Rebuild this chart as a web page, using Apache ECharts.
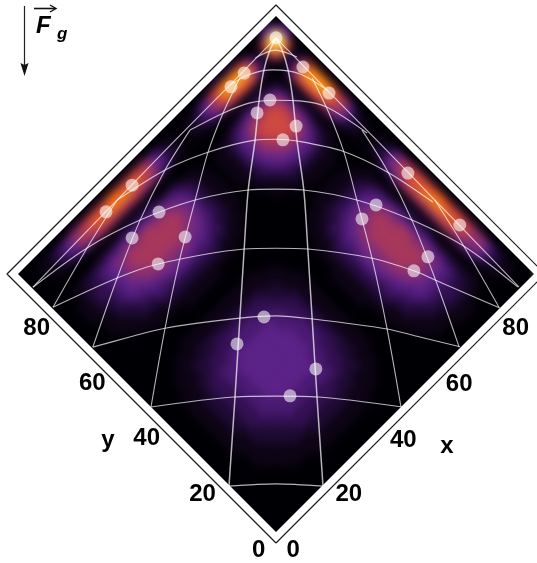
<!DOCTYPE html>
<html>
<head>
<meta charset="utf-8">
<script src="https://cdn.jsdelivr.net/npm/echarts@6/dist/echarts.min.js"></script>
<style>
html, body { margin: 0; padding: 0; background: #fff; overflow: hidden; }
#clip { position: absolute; left: 0; top: 0; width: 537px; height: 563px;
        clip-path: polygon(276px 16px, 534px 274px, 276px 532px, 18px 274px); }
#heat { position: absolute; left: 0; top: 0; width: 537px; height: 563px; filter: blur(4px); }
#main { position: absolute; left: 0; top: 0; width: 537px; height: 563px; }
</style>
</head>
<body>
<div id="clip"><div id="heat"></div></div>
<div id="main"></div>
<script>
// intensity levels, one hex digit per cell, 2 units per cell
// row index = y / 2, character index = x / 2
const heatRows = [
    '000000000000000000000000000000000000000000000',
    '000000000000000000000000000000000000000000000',
    '000000000000000000000000000000000011100000110',
    '000000000011111111110000000000011111111001110',
    '000000011111111111111100000000111122221101220',
    '000000111111222222111110000001112223322102330',
    '000001111222222222221111000001122333332104650',
    '000011112223333333222211000011223444443105770',
    '000011122233333333332211100011234555553116771',
    '000011222334444444433221100011234566664116981',
    '000111223344444444433221100012345677764117a91',
    '000111233444555555443321100012345778875118ba1',
    '000112233445555555443321100112346788875218ba1',
    '000112233445555555544321100112356788875218ca1',
    '000112233445555555544321100112356788885218cb1',
    '000112233445555555544321100112356788885218cb1',
    '000112233445555555544321100112356788875218ca1',
    '000112233445555555443321100112346788875218ba1',
    '000111233444555555443321100012345778875118ba1',
    '000111223334444444433221100012345667764117a91',
    '000011122333344443332211100011234566654116981',
    '000011122223333333322211000011233445543105770',
    '000001111222222222221111000001122333332104650',
    '000000111111111111111110000001112222221102320',
    '000000001111111111111000000000111111111001210',
    '000000000000000000000000000000001111110001110',
    '000000000000000000000000000000000000000000000',
    '000000000000111111000000000000000111110001110',
    '000000011111111111111100000000011111111001210',
    '000001111122222222221111000001112222221102320',
    '000011122233333333332211100001123344432104650',
    '000111223344455554443321100011234555553116881',
    '000112234455666666554322110012345677764117a91',
    '000112345567777777665432110112356789985218cb1',
    '00112234567788888876643211011245789aa86219dc1',
    '0011233456788888888765321101124579aaa9621adc1',
    '0011233456788888888765321101124579aaa9621adc1',
    '000122345667778877765432110112356889986219db1',
    '000112233445555555544321100011234566664116981',
    '000000001111222222111100000000011222221102320',
    '000000000011111111100000000000000111110001210',
    '00011234667888888877643211011235789aa95218ca1',
    '0011235689abbccccbba9653210123579cdddd932cee5',
    '00112346789aaabbaaa98642110112469bcccb721aee5',
    '000000001111111111111000000000011222221001550'
];
const cellSize = 2;
const heatColors = ['#000004', '#0d0415', '#1e0a33', '#341053', '#4a1a72', '#5c2288', '#742a80', '#8f3070',
    '#a8385c', '#c0404a', '#d04a40', '#ea6020', '#f88018', '#ffa020', '#ffe060', '#fffff0'];

// white dots
const spotX = [86.2, 69.8, 74.5, 85.8, 85.8, 74.3, 69.8, 74.3, 69.6, 26.2, 35.4, 35.4, 26.2, 35.6, 26.2, 85.6, 85.6, 74.5, 69.6, 74.5, 69.6, 35.4, 26, 35.4, 26.2];
const spotY = [86.2, 85.5, 85.6, 76.4, 67.3, 76.4, 76.4, 67.3, 67.2, 85.5, 85.6, 76.2, 76.4, 67.3, 67.3, 39.6, 21.5, 39.6, 39.6, 21.5, 21.5, 39.6, 39.6, 21.5, 21.3];

// curved grid, [x, y] along each line
const arcs = [
    [[-0.2, 16.2], [8.4, 8.4], [16.2, -0.2]],
    [[0, 43.6], [16.2, 30.9], [23.7, 23.7], [30.9, 16.2], [43.8, -0.2]],
    [[0.3, 64.2], [8.5, 59.5], [16.2, 54.9], [31, 43.6], [37.7, 37.7], [43.6, 30.7], [54.8, 16], [59.1, 8.9], [64.4, 0.2]],
    [[0.3, 78.1], [16.6, 72], [26.2, 67.3], [43.8, 54.9], [49.5, 49.5], [54.9, 43.8], [64.5, 31], [69.6, 21.5], [71.7, 16.2], [78.1, 0]],
    [[0.3, 85.1], [16.6, 82.5], [30.7, 78.1], [43.8, 72], [54.8, 64.5], [59.8, 59.8], [64.4, 54.9], [72, 43.8], [78.1, 30.7], [82.7, 16.7], [84.9, 0.5]],
    [[30.2, 85.6], [43.8, 82.5], [54.4, 78.1], [64.7, 72], [68.5, 68.5], [71.9, 64.5], [78, 54.9], [82.2, 43.4], [84.9, 30.2]],
    [[55.1, 85.1], [63.8, 82.3], [70.3, 79.4], [75.3, 75.3], [79.4, 71], [83, 65.2], [85.5, 53.7]],
    [[69.9, 86], [75.3, 84.4], [80.1, 81.1], [84.1, 75.7], [86, 68.2]],
    [[79, 86.3], [83.9, 84.2], [86.5, 79.2]]
];
const leftLines = [
    [[-0.2, 16.2], [16.4, 30.7], [31, 43.6], [43.8, 54.9], [54.8, 64.5], [64.7, 72], [72.4, 78.3], [78.5, 82.7], [83, 85.1], [86.2, 86.2]],
    [[0, 43.6], [16.2, 54.9], [31, 64.5], [43.8, 72], [54.4, 78.1], [63.8, 82.3], [72.9, 85.5]],
    [[0.3, 64.2], [16.6, 72], [30.7, 78.1], [43.8, 82.5], [55.1, 85.1]],
    [[0.3, 78.1], [16.6, 82.5], [30.2, 85.6]],
    [[0.3, 85.1], [16, 85.4], [30.2, 85.6], [50, 85.9], [70, 86], [86.2, 86.2]]
];
const rightLines = [
    [[16.2, -0.2], [30.7, 16.4], [43.6, 31], [54.9, 43.8], [64.5, 54.8], [72, 64.7], [78.3, 72.4], [82.7, 78.5], [85.1, 83], [86.2, 86.2]],
    [[43.6, 0], [54.9, 16.2], [64.5, 31], [72, 43.8], [78.1, 54.4], [82.3, 63.8], [85.5, 72.9]],
    [[64.2, 0.3], [72, 16.6], [78.1, 30.7], [82.5, 43.8], [85.1, 55.1]],
    [[78.1, 0.3], [82.5, 16.6], [85.6, 30.2]],
    [[85.1, 0.3], [85.4, 16], [85.6, 30.2], [85.9, 50], [86, 70], [86.2, 86.2]]
];

// axis labels sit just outside the frame
const tickLabels = ['0', '20', '40', '60', '80'];
const xTickPos = [-0.2, 19.2, 38.2, 57.7, 77.4];
const yTickPos = [-0.2, 19.4, 38.9, 57.9, 77.3];
const tickOffset = -6.2;
const frame = [[-1.92, -1.92], [91.92, -1.92], [91.92, 91.92], [-1.92, 91.92], [-1.92, -1.92]];

// the picture is the x/y square turned by 45 degrees, so the hidden axes are x-y and x+y
function turn(p) {
    return [p[0] - p[1], p[0] + p[1]];
}

const hiddenX = { type: 'value', show: false, min: -96.28, max: 91.05 };
const hiddenY = { type: 'value', show: false, min: -10.81, max: 185.58 };
const fullGrid = { left: 0, right: 0, top: 0, bottom: 0 };

let heatData = [];
heatRows.forEach(function (row, j) {
    for (let i = 0; i < row.length; i++) {
        heatData.push([i * cellSize, j * cellSize, parseInt(row[i], 16)]);
    }
});

let heatChart = echarts.init(document.getElementById('heat'));
heatChart.setOption({
    animation: false,
    backgroundColor: '#000004',
    grid: fullGrid,
    xAxis: hiddenX,
    yAxis: hiddenY,
    visualMap: {
        show: false,
        dimension: 2,
        min: 0,
        max: 15,
        inRange: { color: heatColors }
    },
    series: [{
        type: 'custom',
        data: heatData,
        encode: { x: 0, y: 1 },
        renderItem: function (params, api) {
            let x = api.value(0);
            let y = api.value(1);
            let corners = [[x, y], [x + cellSize, y], [x + cellSize, y + cellSize], [x, y + cellSize]];
            let color = api.visual('color');
            return {
                type: 'polygon',
                shape: { points: corners.map(function (c) { return api.coord(turn(c)); }) },
                style: { fill: color, stroke: color, lineWidth: 1 }
            };
        }
    }]
});

function gridLine(points, width) {
    return {
        type: 'line',
        data: points.map(turn),
        smooth: 0.3,
        showSymbol: false,
        silent: true,
        lineStyle: { color: 'rgba(255,255,255,0.7)', width: width }
    };
}

let ticks = [];
tickLabels.forEach(function (t, k) {
    ticks.push(turn([xTickPos[k], tickOffset]).concat(t));
    ticks.push(turn([tickOffset, yTickPos[k]]).concat(t));
});
ticks.push(turn([44.8, -14.8]).concat('x'));
ticks.push(turn([-13.3, 45.3]).concat('y'));

let series = [];
arcs.forEach(function (a) { series.push(gridLine(a, 1.1)); });
leftLines.forEach(function (l, k) { series.push(gridLine(l, k === 0 ? 1.5 : 1.1)); });
rightLines.forEach(function (l, k) { series.push(gridLine(l, k === 0 ? 1.5 : 1.1)); });
series.push({
    type: 'line',
    data: frame.map(turn),
    showSymbol: false,
    silent: true,
    lineStyle: { color: '#1a1a1a', width: 1.2 }
});
series.push({
    type: 'scatter',
    silent: true,
    symbolSize: 13,
    data: spotX.map(function (x, k) { return turn([x, spotY[k]]); }),
    itemStyle: { color: 'rgba(255,255,255,0.58)', opacity: 1 }
});
series.push({
    type: 'scatter',
    symbolSize: 0,
    silent: true,
    data: ticks,
    itemStyle: { opacity: 1 },
    label: {
        show: true,
        position: 'inside',
        formatter: function (p) { return p.value[2]; },
        color: '#000',
        fontFamily: 'Liberation Sans',
        fontWeight: 'bold',
        fontSize: 24
    }
});

let mainChart = echarts.init(document.getElementById('main'));
mainChart.setOption({
    animation: false,
    grid: fullGrid,
    xAxis: hiddenX,
    yAxis: hiddenY,
    series: series,
    graphic: [
        { type: 'line', shape: { x1: 24.5, y1: 6, x2: 24.5, y2: 66 }, style: { stroke: '#222', lineWidth: 1.2 } },
        { type: 'polygon', shape: { points: [[20.5, 63], [24.5, 76], [28.5, 63], [24.5, 65]] }, style: { fill: '#111' } },
        { type: 'line', shape: { x1: 34, y1: 8.5, x2: 55, y2: 8.5 }, style: { stroke: '#111', lineWidth: 1.6 } },
        { type: 'polyline', shape: { points: [[50, 5], [56, 8.5], [50, 12]] }, style: { fill: 'none', stroke: '#111', lineWidth: 1.4 } },
        { type: 'text', left: 36, top: 14, style: { text: 'F', fill: '#000', font: 'italic bold 24px "Liberation Sans"' } },
        { type: 'text', left: 57, top: 26, style: { text: 'g', fill: '#000', font: 'italic bold 17px "Liberation Sans"' } }
    ]
});
</script>
</body>
</html>
